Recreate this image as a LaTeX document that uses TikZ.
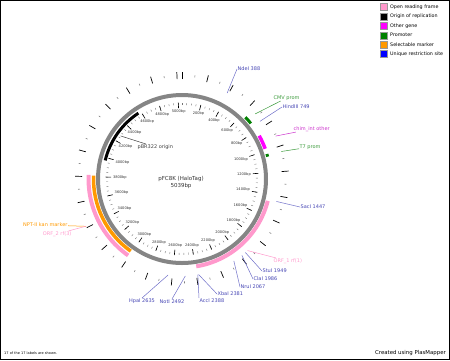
\documentclass[tikz,border=0pt]{standalone}
\usepackage{fontspec}
\setmainfont{DejaVu Sans}
\usetikzlibrary{calc}
\definecolor{orfpink}{HTML}{FF99CC}
\definecolor{markorange}{HTML}{FF9900}
\definecolor{promgreen}{HTML}{008000}
\definecolor{genemagenta}{HTML}{FF00FF}
\definecolor{sitelabel}{HTML}{4646B4}
\definecolor{siteline}{HTML}{6E6EC8}
\definecolor{promlabel}{HTML}{3A9A3A}
\definecolor{genelabel}{HTML}{CC33CC}
\definecolor{ringgray}{HTML}{858585}

\tikzset{
  lab/.style={font=\fontsize{5}{6}\selectfont, inner sep=0.4pt},
  sitelab/.style={lab, text=sitelabel},
  sitelink/.style={draw=siteline, line width=0.5pt},
  bplab/.style={font=\fontsize{3.6}{4}\selectfont, inner sep=0.3pt, text=black!80},
  legbox/.style={minimum size=7pt, inner sep=0pt, draw=black!40, line width=0.3pt},
  legtext/.style={font=\fontsize{4.8}{5.5}\selectfont, inner sep=0pt, anchor=west}
}

\begin{document}
\begin{tikzpicture}[x=1pt, y=-1pt]
\useasboundingbox (0,0) rectangle (450,360);
\draw[line width=1.2] (0.6,0.6) rectangle (449.4,359.4);
\coordinate (c) at (182,179);

\foreach \bp in {0,50,...,5000} {
	\pgfmathsetmacro\ang{\bp/5039*360-90}
	\draw[black!55, line width=0.4] ($(c)+(\ang:74)$) -- ($(c)+(\ang:76)$);
	};
\foreach \bp in {200,400,...,5000} {
	\pgfmathsetmacro\ang{\bp/5039*360-90}
	\pgfmathsetmacro\anc{360-\ang}
	\draw[black, line width=0.6] ($(c)+(\ang:71)$) -- ($(c)+(\ang:76.5)$);
	\node[bplab, anchor=\anc] (bp\bp) at ($(c)+(\ang:69.5)$) {\bp bp};
	};
\foreach \bp in {0,200,...,5000} {
	\pgfmathsetmacro\ang{\bp/5039*360-90}
	\draw[black, line width=0.7] ($(c)+(\ang:100)$) -- ($(c)+(\ang:107)$);
	};
\foreach \bp in {100,300,...,4900} {
	\pgfmathsetmacro\ang{\bp/5039*360-90}
	\draw[black!50, line width=0.6] ($(c)+(\ang:102.5)$) -- ($(c)+(\ang:104.5)$);
	};

\draw[ringgray, line width=4] (c) circle[radius=84];
\foreach \col/\from/\to/\r/\w in {black/3970/4570/79/3, orfpink/1460/2390/88.5/4,
	markorange/3015/3810/88.5/3.5, orfpink/3012/3815/93.5/4, promgreen/640/715/88.5/3,
	genemagenta/850/980/88.5/3.5, promgreen/1030/1055/88.5/3} {
	\pgfmathsetmacro\angA{\from/5039*360-90}
	\pgfmathsetmacro\angB{\to/5039*360-90}
	\draw[\col, line width=\w] ($(c)+(\angA:\r)$) arc[start angle=\angA, end angle=\angB, radius=\r];
	};

\node[font=\fontsize{5.5}{7}\selectfont, align=center, text=black!80] (name) at (181,182) {pFC8K (HaloTag)\\5039bp};

\node[sitelab, anchor=west] (ndei) at (237,69) {NdeI 388};
\node[sitelab, anchor=west] (hindiii) at (282,107) {HindIII 749};
\node[sitelab, anchor=west] (saci) at (300,207) {SacI 1447};
\node[sitelab, anchor=west] (stui) at (262,271) {StuI 1949};
\node[sitelab, anchor=west] (clai) at (253,279) {ClaI 1986};
\node[sitelab, anchor=west] (nrui) at (240,287) {NruI 2067};
\node[sitelab, anchor=west] (xbai) at (217,294) {XbaI 2381};
\node[sitelab, anchor=north west] (acci) at (199,298) {AccI 2388};
\node[sitelab, anchor=north] (noti) at (172,299) {NotI 2492};
\node[sitelab, anchor=north] (hpai) at (142,298) {HpaI 2635};
\foreach \nm/\bp/\side in {ndei/388/west, hindiii/749/west, saci/1447/west, stui/1949/west,
	clai/1986/west, nrui/2067/west, xbai/2381/west, acci/2388/north west, noti/2492/north, hpai/2635/north} {
	\pgfmathsetmacro\ang{\bp/5039*360-90}
	\coordinate (\nm-site) at ($(c)+(\ang:97)$);
	\draw[sitelink] (\nm-site) -- (\nm.\side);
	};

\node[lab, text=promlabel, anchor=west] (cmv) at (273,98) {CMV prom};
\node[lab, text=genelabel, anchor=west] (chim) at (293,129) {chim\_int other};
\node[lab, text=promlabel, anchor=west] (t7) at (299,147) {T7 prom};
\node[lab, text=orfpink, anchor=west] (orf1) at (273,261) {ORF\_1 rf(1)};
\node[lab, text=markorange, anchor=east] (kan) at (68,225) {NPT-II kan marker};
\node[lab, text=orfpink, anchor=east] (orf2) at (72,234) {ORF\_2 rf(3)};
\node[lab, text=black!75, anchor=west] (ori) at (137,147) {pBR322 origin};
\foreach \nm/\bp/\r/\col in {cmv/677/98/promlabel, chim/915/103/genelabel, t7/1043/103/promlabel,
	orf1/1925/97/orfpink, kan/3412/107/markorange, orf2/3413/107/orfpink, ori/4270/75/black!75} {
	\pgfmathsetmacro\ang{\bp/5039*360-90}
	\coordinate (\nm-feat) at ($(c)+(\ang:\r)$);
	\draw[\col, line width=0.5] (\nm-feat) -- (\nm);
	};

\foreach \col/\txt [count=\i] in {orfpink/Open reading frame, black/Origin of replication,
	genemagenta/Other gene, promgreen/Promoter, markorange/Selectable marker, blue/Unique restriction site} {
	\node[legbox, fill=\col] (key\i) at (383.5,{7+(\i-1)*9.4}) {};
	\node[legtext] (keytext\i) at (390,{7+(\i-1)*9.4}) {\txt};
	};

\node[font=\fontsize{3.5}{4}\selectfont, anchor=west, inner sep=0] (shown) at (4,353) {17 of the 17 labels are shown.};
\node[font=\fontsize{5.4}{6}\selectfont, anchor=east, inner sep=0] (credit) at (446,353) {Created using PlasMapper};
\end{tikzpicture}
\end{document}
